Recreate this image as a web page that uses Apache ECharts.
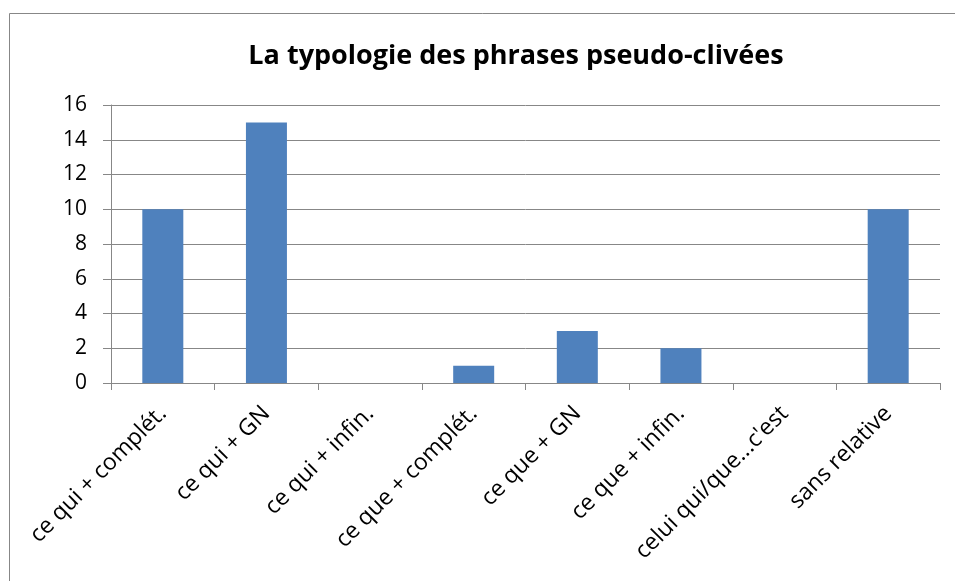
<!DOCTYPE html>
<html>
<head>
<meta charset="utf-8">
<script src="https://cdn.jsdelivr.net/npm/echarts@6/dist/echarts.min.js"></script>
<style>
html,body{margin:0;padding:0;background:#fff;}
#c{width:955px;height:581px;}
</style>
</head>
<body>
<div id="c"></div>
<script>
const titleText = 'La typologie des phrases pseudo-clivées';
const categories = ['ce qui + complét.', 'ce qui + GN', 'ce qui + infin.', 'ce que + complét.', 'ce que + GN', 'ce que + infin.', "celui qui/que...c'est", 'sans relative'];
const values = [10, 15, 0, 1, 3, 2, 0, 10];
const yTicks = [0, 2, 4, 6, 8, 10, 12, 14, 16];

const chart = echarts.init(document.getElementById('c'), null, {renderer: 'canvas'});
const gray = '#878787';
const font = '"Open Sans", sans-serif';
chart.setOption({
  animation: false,
  backgroundColor: '#fff',
  graphic: [{
    type: 'rect',
    shape: {x: 9.5, y: 13.5, width: 960, height: 600},
    style: {fill: 'none', stroke: gray, lineWidth: 1},
    silent: true
  }],
  title: {
    text: titleText,
    left: 511, top: 38, textAlign: 'center',
    textStyle: {fontFamily: font, fontWeight: 'bold', fontSize: 27, color: '#000'}
  },
  grid: {left: 111, right: 15, top: 105, bottom: 198, containLabel: false},
  xAxis: {
    type: 'category',
    data: categories,
    axisLine: {show: true, lineStyle: {color: gray, width: 1}},
    axisTick: {show: true, length: 7, lineStyle: {color: gray}, alignWithLabel: false},
    axisLabel: {rotate: 45, margin: 27, interval: 0, fontFamily: font, fontSize: 23, color: '#000'},
    splitLine: {show: false}
  },
  yAxis: {
    type: 'value',
    min: yTicks[0], max: yTicks[yTicks.length - 1], interval: 2,
    axisLine: {show: true, lineStyle: {color: gray, width: 1}},
    axisTick: {show: true, length: 8, lineStyle: {color: gray}},
    axisLabel: {margin: 24, fontFamily: font, fontSize: 21, color: '#000'},
    splitLine: {show: true, lineStyle: {color: gray, width: 1}}
  },
  series: [{
    type: 'bar',
    data: values,
    barWidth: 41,
    itemStyle: {color: '#4F81BD'}
  }]
});
</script>
</body>
</html>
